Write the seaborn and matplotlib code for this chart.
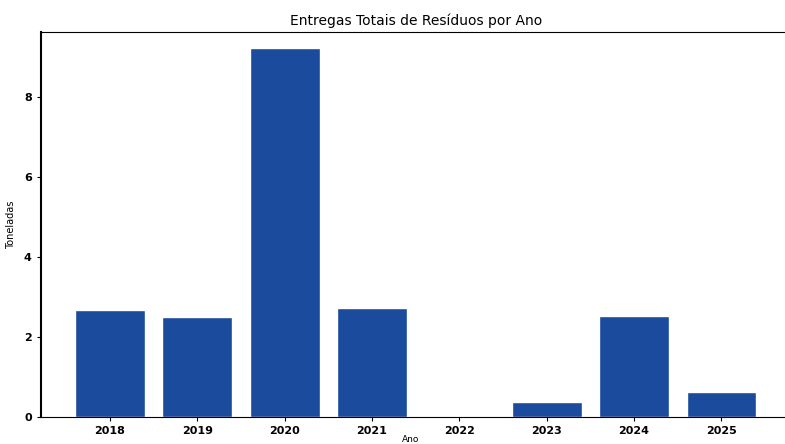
import pandas as pd
import seaborn as sns
import matplotlib.pyplot as plt

# -------------------------------
# Dados
# -------------------------------
anos = ["2018", "2019", "2020", "2021", "2022", "2023", "2024", "2025"]
toneladas = [2.68, 2.51, 9.22, 2.72, 0.0, 0.37, 2.52, 0.62]

df = pd.DataFrame({"Ano": anos, "Toneladas": toneladas})

# -------------------------------
# Gráfico
# -------------------------------
sns.set_style("ticks", {"text.color": "black", "axes.labelcolor": "black",
                        "xtick.color": "black", "ytick.color": "black"})
plt.rcParams['font.family'] = ['DejaVu Sans']

fig = plt.figure(figsize=(7.85, 4.44), dpi=100)
ax = fig.add_axes([0.052, 0.061, 0.955, 0.867])

sns.barplot(data=df, x="Ano", y="Toneladas", color="#1a4b9c",
            saturation=1, width=0.8, ax=ax)

ax.set_xlim(-0.79, 7.79)
ax.set_ylim(0, 9.63)
ax.set_yticks([0, 2, 4, 6, 8])

ax.set_title("Entregas Totais de Resíduos por Ano", fontsize=10, pad=5)
ax.set_xlabel("Ano", fontsize=6.5)
ax.set_ylabel("Toneladas", fontsize=7)
ax.xaxis.set_label_coords(0.493, -0.047)
ax.yaxis.set_label_coords(-0.033, 0.5)
ax.tick_params(axis="both", labelsize=8, length=3)
for lbl in ax.get_xticklabels() + ax.get_yticklabels():
    lbl.set_fontweight("bold")

for side in ["left", "bottom", "top", "right"]:
    ax.spines[side].set_visible(True)
    ax.spines[side].set_color("black")
ax.spines["left"].set_linewidth(1.5)

fig.savefig("out.png", dpi=100)
